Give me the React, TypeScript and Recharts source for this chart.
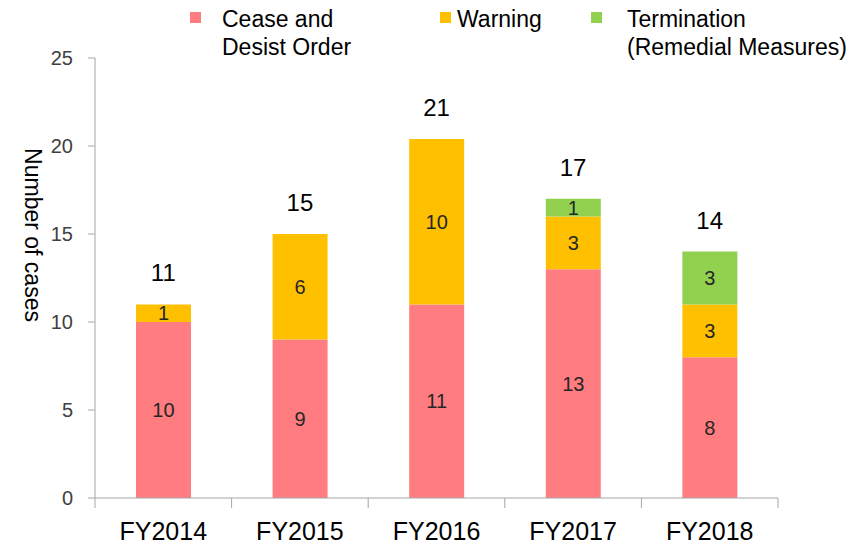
import { ComposedChart, Bar, Line, XAxis, YAxis, LabelList } from "recharts";

const categories = ["FY2014", "FY2015", "FY2016", "FY2017", "FY2018"];
const ceaseDesist = [10, 9, 11, 13, 8];
const warning = [1, 6, 9.4, 3, 3];
const warningLabels = [1, 6, 10, 3, 3];
const termination = [0, 0, 0, 1, 3];
const totals = [11, 15, 21, 17, 14];
const yTicks = [0, 5, 10, 15, 20, 25];

const COLORS = { cease: "#FF7C80", warning: "#FFC000", termination: "#92D050" };
const FONT = '"Liberation Sans", Arial, sans-serif';
const AXIS_GRAY = "#a6a6a6";

const data = categories.map((category, i) => ({
  category,
  cease: ceaseDesist[i],
  warning: warning[i],
  warningLabel: warningLabels[i],
  termination: termination[i],
  stackTop: ceaseDesist[i] + warning[i] + termination[i],
  total: totals[i],
}));

const hideZero = (v: any) => (v === 0 ? "" : v);

const legendItems = [
  { label: ["Cease and", "Desist Order"], color: COLORS.cease, box: 190, text: 222 },
  { label: ["Warning"], color: COLORS.warning, box: 440, text: 457 },
  { label: ["Termination", "(Remedial Measures)"], color: COLORS.termination, box: 591, text: 627 },
];

function Legend() {
  return (
    <>
      {legendItems.map((it) => (
        <div key={it.label[0]}>
          <div
            style={{
              position: "absolute",
              left: it.box,
              top: 12,
              width: 11,
              height: 11,
              background: it.color,
            }}
          />
          <div
            style={{
              position: "absolute",
              left: it.text,
              top: 5,
              fontFamily: FONT,
              fontSize: 23,
              lineHeight: "28px",
              color: "#000",
              whiteSpace: "nowrap",
            }}
          >
            {it.label.map((l) => (
              <div key={l}>{l}</div>
            ))}
          </div>
        </div>
      ))}
    </>
  );
}

const renderYLabel = (props: any) => {
  const vb = props.viewBox;
  const cx = vb.x + 33;
  const cy = vb.y + vb.height / 2 - 43;
  return (
    <text
      x={cx}
      y={cy}
      transform={`rotate(90 ${cx} ${cy})`}
      textAnchor="middle"
      dominantBaseline="central"
      fontFamily={FONT}
      fontSize={23}
      fill="#000"
    >
      Number of cases
    </text>
  );
};

// category label plus tick marks on the band edges
const renderXTick = (props: any) => {
  const { x, y, payload, index, visibleTicksCount } = props;
  const half = payload.offset || 68;
  const last = index === visibleTicksCount - 1;
  return (
    <g>
      <line x1={x - half} y1={y} x2={x - half} y2={y + 10} stroke={AXIS_GRAY} />
      {last && <line x1={x + half} y1={y} x2={x + half} y2={y + 10} stroke={AXIS_GRAY} />}
      <text x={x} y={y + 24} dy="0.71em" textAnchor="middle" fontFamily={FONT} fontSize={25} fill="#000">
        {payload.value}
      </text>
    </g>
  );
};

export default function App() {
  return (
    <div style={{ position: "absolute", left: 0, top: 0, width: 865, height: 548, background: "#fff" }}>
      <Legend />
      <ComposedChart
        width={865}
        height={548}
        data={data}
        margin={{ top: 58, right: 87, bottom: 0, left: 0 }}
        barCategoryGap="30%"
        style={{ fontFamily: FONT }}
      >
        <XAxis
          dataKey="category"
          height={50}
          tickLine={false}
          tickSize={0}
          tickMargin={0}
          axisLine={{ stroke: AXIS_GRAY }}
          tick={renderXTick}
          interval={0}
        />
        <YAxis
          width={95}
          domain={[0, 25]}
          ticks={yTicks}
          tickSize={7}
          tickMargin={15}
          tickLine={{ stroke: AXIS_GRAY }}
          axisLine={{ stroke: AXIS_GRAY }}
          tick={{ fontSize: 20, fill: "#404040" }}
          label={{ content: renderYLabel }}
        />
        <Bar dataKey="cease" stackId="a" fill={COLORS.cease} isAnimationActive={false}>
          <LabelList dataKey="cease" position="center" fontSize={20} fill="#262626" formatter={hideZero} />
        </Bar>
        <Bar dataKey="warning" stackId="a" fill={COLORS.warning} isAnimationActive={false}>
          <LabelList dataKey="warningLabel" position="center" fontSize={20} fill="#262626" formatter={hideZero} />
        </Bar>
        <Bar dataKey="termination" stackId="a" fill={COLORS.termination} isAnimationActive={false}>
          <LabelList dataKey="termination" position="center" fontSize={20} fill="#262626" formatter={hideZero} />
        </Bar>
        <Line
          dataKey="stackTop"
          stroke="none"
          dot={false}
          activeDot={false}
          legendType="none"
          isAnimationActive={false}
        >
          <LabelList dataKey="total" position="top" offset={23} fontSize={24} fill="#000" />
        </Line>
      </ComposedChart>
    </div>
  );
}
